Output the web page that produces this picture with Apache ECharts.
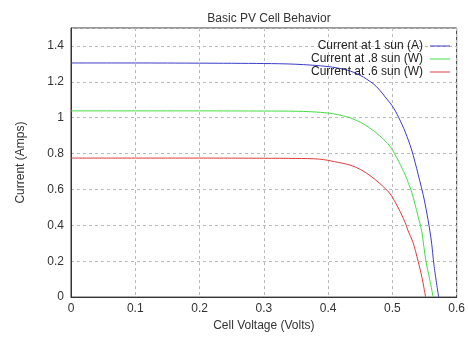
<!DOCTYPE html>
<html>
<head>
<meta charset="utf-8">
<script src="https://cdn.jsdelivr.net/npm/echarts@6/dist/echarts.min.js"></script>
<style>html,body{margin:0;padding:0;background:#fff}#c{width:468px;height:337px}</style>
</head>
<body>
<div id="c"></div>
<script>
var seriesNames = ['Current at 1 sun (A)', 'Current at .8 sun (W)', 'Current at .6 sun (W)'];
var xTicks = [0, 0.1, 0.2, 0.3, 0.4, 0.5, 0.6];
var yTicks = [0, 0.2, 0.4, 0.6, 0.8, 1, 1.2, 1.4];
var sun1 = [[0,1.305],[0.1,1.305],[0.2,1.304],[0.3,1.302],[0.35,1.298],[0.4,1.285],[0.43,1.265],[0.45,1.236],[0.47,1.19],[0.48,1.155],[0.49,1.11],[0.5,1.065],[0.51,1.0],[0.52,0.92],[0.53,0.82],[0.54,0.685],[0.55,0.536],[0.56,0.33],[0.565,0.17],[0.572,0]];
var sun08 = [[0,1.038],[0.1,1.038],[0.2,1.038],[0.3,1.037],[0.35,1.036],[0.4,1.026],[0.43,1.004],[0.45,0.975],[0.465,0.942],[0.48,0.9],[0.496,0.842],[0.51,0.755],[0.52,0.68],[0.53,0.585],[0.54,0.45],[0.5455,0.37],[0.552,0.204],[0.558,0.1],[0.5635,0]];
var sun06 = [[0,0.775],[0.1,0.775],[0.2,0.775],[0.3,0.774],[0.35,0.773],[0.387,0.769],[0.41,0.755],[0.434,0.736],[0.45,0.712],[0.465,0.678],[0.48,0.635],[0.496,0.578],[0.505,0.525],[0.512,0.477],[0.52,0.415],[0.5246,0.368],[0.532,0.306],[0.54,0.2],[0.546,0.11],[0.5517,0]];
var colors = ['#3c3cc8', '#44dd44', '#dd3c3c'];

var chart = echarts.init(document.getElementById('c'), null, {renderer: 'canvas'});
var font = 'Liberation Sans, Arial, sans-serif';
function mk(name, data, color) {
  return {name: name, type: 'line', data: data, smooth: 0.3, symbol: 'none',
    lineStyle: {width: 1, color: color}, itemStyle: {color: color}};
}
chart.setOption({
  animation: false,
  textStyle: {fontFamily: font},
  title: {text: 'Basic PV Cell Behavior', left: 264, textAlign: 'center', top: 8,
    textStyle: {fontSize: 12, fontWeight: 'normal', color: '#333', fontFamily: font}},
  grid: {left: 71, right: 11, top: 28, bottom: 33, show: true, borderColor: '#333', borderWidth: 1, containLabel: false},
  legend: {orient: 'vertical', right: 18, top: 40, padding: 0, align: 'right', itemGap: 1, itemWidth: 20, itemHeight: 12,
    icon: 'path://M0,6 L20,6 L20,7 L0,7 Z',
    textStyle: {fontSize: 12, color: '#222', fontFamily: font, padding: [0, 2, 0, 0]},
    data: seriesNames},
  xAxis: {type: 'value', min: 0, max: 0.6, interval: 0.1,
    name: 'Cell Voltage (Volts)', nameLocation: 'middle', nameGap: 21,
    nameTextStyle: {fontSize: 12, color: '#333', fontFamily: font},
    axisLine: {show: true, lineStyle: {color: '#333'}}, axisTick: {show: false},
    axisLabel: {fontSize: 12, color: '#333', margin: 6, fontFamily: font,
      formatter: function(v){ var r = Math.round(v*10)/10; return xTicks.indexOf(r) >= 0 ? String(r) : ''; }},
    splitLine: {show: true, lineStyle: {color: '#bbb', type: [3, 3]}}},
  yAxis: {type: 'value', min: 0, max: 1.5, interval: 0.2,
    name: 'Current (Amps)', nameLocation: 'middle', nameGap: 44, nameRotate: 90,
    nameTextStyle: {fontSize: 12, color: '#333', fontFamily: font},
    axisLine: {show: true, lineStyle: {color: '#333'}}, axisTick: {show: false},
    axisLabel: {fontSize: 12, color: '#333', margin: 7, fontFamily: font, showMaxLabel: false,
      formatter: function(v){ var r = Math.round(v*10)/10; return yTicks.indexOf(r) >= 0 ? String(r) : ''; }},
    splitLine: {show: true, lineStyle: {color: '#bbb', type: [3, 3]}}},
  series: [mk(seriesNames[0], sun1, colors[0]), mk(seriesNames[1], sun08, colors[1]), mk(seriesNames[2], sun06, colors[2])]
});
</script>
</body>
</html>
